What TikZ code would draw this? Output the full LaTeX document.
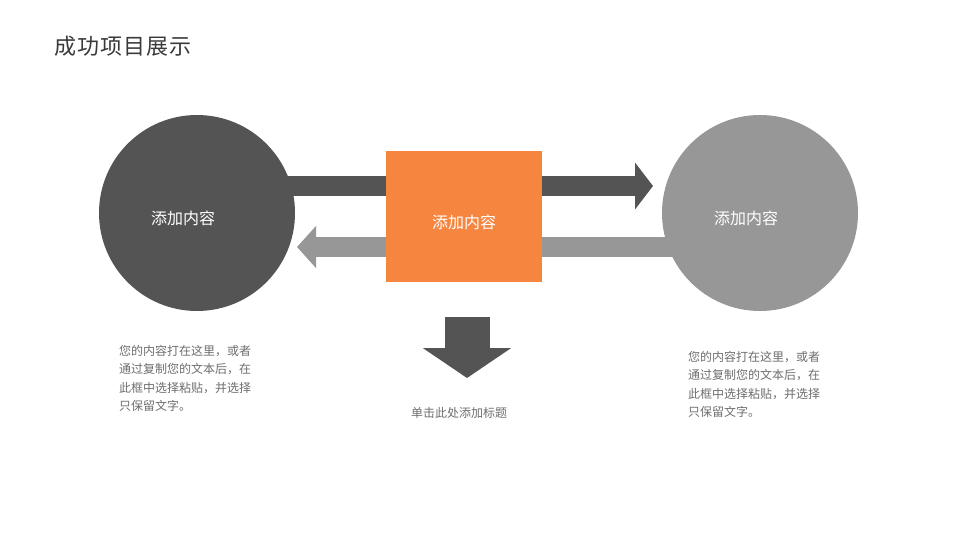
\documentclass[tikz,border=0pt]{standalone}
\usepackage{fontspec}
\setmainfont{Noto Sans CJK SC}
\usetikzlibrary{arrows.meta}
\definecolor{darkg}{HTML}{545454}
\definecolor{lightg}{HTML}{979797}
\definecolor{orng}{HTML}{F5853F}
\definecolor{txtg}{HTML}{6E6E6E}
\definecolor{ttl}{HTML}{3A3A3A}
\tikzset{
  bigcircle/.style={circle, minimum size=196pt, inner sep=0pt, draw=none},
  wtext/.style={text=white, font=\fontsize{16}{18}\selectfont, inner sep=0pt},
  para/.style={text=txtg, font=\fontsize{12}{18.5}\selectfont, align=left, anchor=north west, inner sep=0pt},
  toparrow/.style={line width=20pt, darkg, -{Triangle[width=46pt,length=18pt]}},
  botarrow/.style={line width=20pt, lightg, -{Triangle[width=41pt,length=19pt]}},
  downarrow/.style={line width=45pt, darkg, -{Triangle[width=87pt,length=30pt]}},
}
\begin{document}
\begin{tikzpicture}[x=1pt,y=-1pt]
\useasboundingbox[fill=white] (0,0) rectangle (960,540);
% title
\node[anchor=west, text=ttl, font=\fontsize{22}{24}\selectfont\addfontfeature{LetterSpace=5}, inner sep=0pt] (title) at (54,46) {成功项目展示};
% anchor coordinates
\coordinate (t1) at (653,186);
\coordinate (b1) at (297,247);
\coordinate (d0) at (467,317);
\coordinate (d1) at (467,378);
% shapes (positions only)
\path (197,213) coordinate (Lc) (760,213) coordinate (Rc);
% arrows behind
\draw[toparrow] (Lc |- t1) -- (t1);
\draw[botarrow] (Rc |- b1) -- (b1);
% circles and square
\node[bigcircle, fill=darkg] (L) at (Lc) {};
\node[bigcircle, fill=lightg] (R) at (Rc) {};
\node[rectangle, fill=orng, minimum width=156pt, minimum height=131pt, inner sep=0pt] (S) at (464,216.5) {};
\node[wtext] (Lt) at (183,218) {添加内容};
\node[wtext] (St) at (464,222) {添加内容};
\node[wtext] (Rt) at (746,218) {添加内容};
% down arrow
\draw[downarrow] (d0) -- (d1);
\node[text=txtg, font=\fontsize{12}{14}\selectfont, inner sep=0pt] (cap) at (459,413) {单击此处添加标题};
% paragraphs
\node[para] (p1) at (119,345) {您的内容打在这里，或者\\通过复制您的文本后，在\\此框中选择粘贴，并选择\\只保留文字。};
\node[para] (p2) at (688,351) {您的内容打在这里，或者\\通过复制您的文本后，在\\此框中选择粘贴，并选择\\只保留文字。};
\end{tikzpicture}
\end{document}
